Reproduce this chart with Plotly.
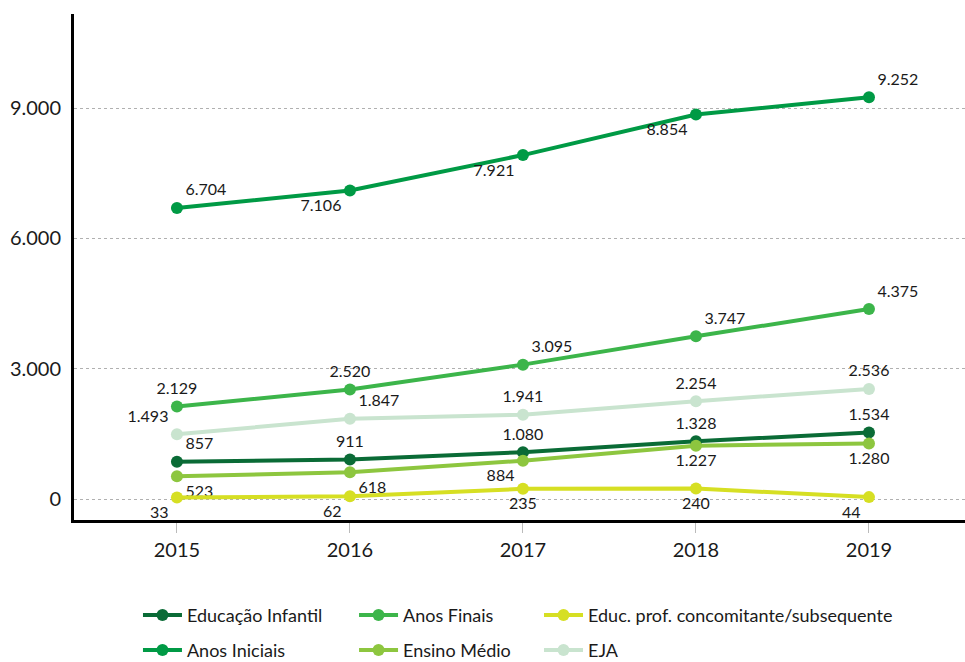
import plotly.graph_objects as go

years = [2015, 2016, 2017, 2018, 2019]
educacao_infantil = [857, 911, 1080, 1328, 1534]
anos_iniciais = [6704, 7106, 7921, 8854, 9252]
anos_finais = [2129, 2520, 3095, 3747, 4375]
ensino_medio = [523, 618, 884, 1227, 1280]
educ_prof = [33, 62, 235, 240, 44]
eja = [1493, 1847, 1941, 2254, 2536]

series = [
    ("Educação Infantil", educacao_infantil, "#0a6b36",
     ["top right", "top center", "top center", "top center", "top center"], "legend"),
    ("Anos Iniciais", anos_iniciais, "#009a45",
     ["top right", "bottom left", "bottom left", "bottom left", "top right"], "legend2"),
    ("Anos Finais", anos_finais, "#3cb54a",
     ["top center", "top center", "top right", "top right", "top right"], "legend3"),
    ("Ensino Médio", ensino_medio, "#8dc63f",
     ["bottom right", "bottom right", "bottom left", "bottom center", "bottom center"], "legend4"),
    ("Educ. prof. concomitante/subsequente", educ_prof, "#d6df23",
     ["bottom left", "bottom left", "bottom center", "bottom center", "bottom left"], "legend5"),
    ("EJA", eja, "#c9e4cf",
     ["top left", "top right", "top center", "top center", "top center"], "legend6"),
]

def fmt(v):
    return f"{v:,}".replace(",", ".")

fig = go.Figure()
for name, vals, color, pos, leg in series:
    fig.add_trace(go.Scatter(
        x=years, y=vals, name=name, mode="lines+markers+text",
        line=dict(color=color, width=4),
        marker=dict(color=color, size=12),
        text=[fmt(v) for v in vals],
        textposition=pos,
        textfont=dict(family="Lato", size=16, color="#1a1a1a"),
        cliponaxis=False,
        legend=leg,
    ))

legfont = dict(family="Lato", size=18, color="#1a1a1a")
col_x = [0.0718, 0.3143, 0.5219]
row_y = [-0.152, -0.221]
legend_layout = {}
names = ["legend", "legend2", "legend3", "legend4", "legend5", "legend6"]
for i, ln in enumerate(names):
    legend_layout[ln] = dict(
        x=col_x[i // 2], xanchor="left", y=row_y[i % 2], yanchor="top",
        font=legfont, bgcolor="rgba(0,0,0,0)", itemwidth=39,
    )

fig.update_layout(
    width=965, height=662,
    margin=dict(l=74, r=0, t=14, b=142, autoexpand=False),
    paper_bgcolor="white", plot_bgcolor="white",
    separators=",.",
    font=dict(family="Lato", size=17, color="#1a1a1a"),
    showlegend=True,
    xaxis=dict(
        range=[2014.405, 2019.555], tickmode="array", tickvals=years,
        ticktext=[str(y) for y in years],
        showgrid=False, zeroline=False, automargin=False,
        showline=True, linecolor="black", linewidth=3,
        ticks="outside", ticklen=10, tickcolor="#bbbbbb", tickwidth=1,
        tickfont=dict(family="Lato", size=20, color="#1a1a1a"),
    ),
    yaxis=dict(
        range=[-483, 11170], tickvals=[0, 3000, 6000, 9000], tickformat=",d",
        showgrid=True, gridcolor="#b0b0b0", griddash="dot", gridwidth=1,
        zeroline=False, showline=True, linecolor="black", linewidth=3,
        ticks="", automargin=False, ticklabelstandoff=6,
        tickfont=dict(family="Lato", size=20, color="#1a1a1a"),
    ),
    **legend_layout,
)

fig.write_html(
    "out.html",
    config={"displayModeBar": False},
    post_script="document.body.style.margin='0';document.body.style.overflow='hidden';",
)
